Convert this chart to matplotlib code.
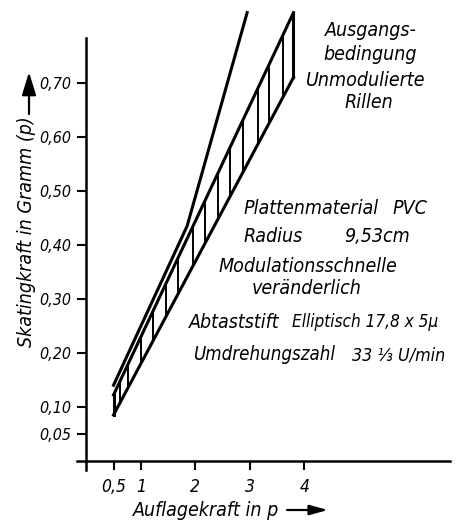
import matplotlib
matplotlib.use('Agg')
from matplotlib import pyplot as plt
from matplotlib.patches import FancyArrowPatch

# Auflagekraft (p) and Skatingkraft (p)
upper_x = [0.5, 1.85, 2.95]
upper_y = [0.14, 0.435, 0.83]

band_x = [0.5, 3.8]
band_top = [0.122, 0.83]
band_bottom = [0.085, 0.71]

# positions of the hatch strokes inside the band
hatch_x = [0.5, 0.62, 0.76, 1.0, 1.23, 1.47, 1.68, 1.96, 2.17, 2.41, 2.63,
           2.88, 3.14, 3.36, 3.61, 3.8]

yticks = [0.05, 0.10, 0.20, 0.30, 0.40, 0.50, 0.60, 0.70]
ytick_labels = ['0,05', '0,10', '0,20', '0,30', '0,40', '0,50', '0,60', '0,70']
xticks = [0.5, 1, 2, 3, 4]
xtick_labels = ['0,5', '1', '2', '3', '4']

plt.rcParams['font.family'] = ['DejaVu Sans']
plt.rcParams['font.style'] = 'oblique'
plt.rcParams['font.stretch'] = 'condensed'

W, H = 459, 523
fig = plt.figure(figsize=(W / 100, H / 100), dpi=100)
ax = fig.add_axes([77 / W, 1 - 470 / H, (450 - 77) / W, (470 - 38) / H])
ax.set_xlim(-0.17, 6.67)
ax.set_ylim(-0.017, 0.783)

for side in ('top', 'right'):
    ax.spines[side].set_visible(False)
ax.spines['left'].set_position(('data', 0))
ax.spines['bottom'].set_position(('data', 0))
for side in ('left', 'bottom'):
    ax.spines[side].set_linewidth(1.8)

ax.set_yticks(yticks)
ax.set_yticklabels(ytick_labels)
ax.set_xticks(xticks)
ax.set_xticklabels(xtick_labels)
ax.tick_params(direction='out', length=6.5, width=1.5, labelsize=11.5, pad=4)
ax.tick_params(axis='x', pad=6, labelsize=12.5)


def lerp(xs, ys, x):
    return ys[0] + (ys[1] - ys[0]) * (x - xs[0]) / (xs[1] - xs[0])


lw = 2.2
ax.plot(upper_x, upper_y, color='black', lw=lw, clip_on=False)
ax.plot(band_x, band_top, color='black', lw=lw, clip_on=False)
ax.plot(band_x, band_bottom, color='black', lw=lw, clip_on=False)
for hx in hatch_x:
    w = lw if hx in (band_x[0], band_x[-1]) else 1.4
    ax.plot([hx, hx], [lerp(band_x, band_bottom, hx), lerp(band_x, band_top, hx)],
            color='black', lw=w, clip_on=False)


def ftext(px, py, s, **kw):
    kw.setdefault('fontsize', 14)
    kw.setdefault('ha', 'center')
    kw.setdefault('va', 'center')
    fig.text(px / W, 1 - py / H, s, **kw)


# conditions
ftext(371, 30, 'Ausgangs-')
ftext(370, 55, 'bedingung')
ftext(366, 80, 'Unmodulierte')
ftext(369, 103, 'Rillen')
ftext(244, 208, 'Plattenmaterial', ha='left')
ftext(427, 208, 'PVC', ha='right')
ftext(244, 237, 'Radius', ha='left')
ftext(410, 237, '9,53cm', ha='right')
ftext(308, 267, 'Modulationsschnelle')
ftext(307, 289, 'veränderlich')
ftext(189, 322, 'Abtaststift', ha='left')
ftext(438, 322, 'Elliptisch 17,8 x 5µ', ha='right', fontsize=12.3)
ftext(193, 355, 'Umdrehungszahl', ha='left', fontsize=13.4)
ftext(445, 355, '33 ⅓ U/min', ha='right', fontsize=12.8)

# axis titles with arrows
ftext(27, 232, 'Skatingkraft in Gramm (p)', rotation=90)
ftext(206, 510, 'Auflagekraft in p')
fig.add_artist(FancyArrowPatch(
    (29 / W, 1 - 114 / H), (29 / W, 1 - 72 / H), transform=fig.transFigure,
    arrowstyle='-|>,head_length=14,head_width=4.3', mutation_scale=1,
    shrinkA=0, shrinkB=0, color='black', lw=1.6))
fig.add_artist(FancyArrowPatch(
    (287 / W, 1 - 510 / H), (328 / W, 1 - 510 / H), transform=fig.transFigure,
    arrowstyle='-|>,head_length=11,head_width=3', mutation_scale=1,
    shrinkA=0, shrinkB=0, color='black', lw=1.6))

fig.savefig('out.png', dpi=100)
